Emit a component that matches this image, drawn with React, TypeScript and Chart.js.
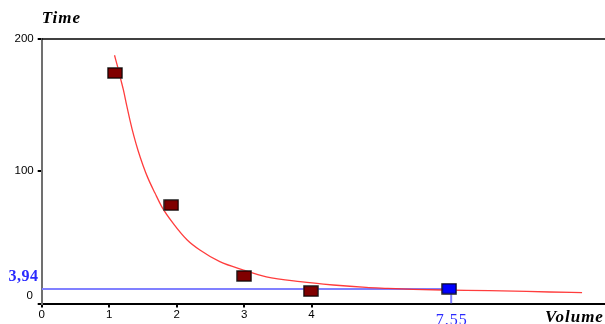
import React, { useEffect, useRef } from "react";
import { Chart, registerables } from "chart.js";

Chart.register(...registerables);

// Measured points (Volume, Time)
const pointsX = [1.086, 1.92, 3.0, 3.99];
const pointsY = [174.3, 74.4, 20.8, 9.4];

// Fitted curve samples
const fitX = [1.079, 1.126, 1.17, 1.212, 1.259, 1.308, 1.367, 1.427, 1.501, 1.575, 1.679, 1.783, 1.946, 2.157, 2.345, 2.64, 2.99, 3.33, 3.83, 4.32, 4.81, 5.13, 5.51, 5.93, 6.64, 7.53, 8.01];
const fitY = [187.7, 178.9, 169.8, 161.3, 150.0, 138.7, 126.5, 115.9, 104.6, 94.8, 83.5, 72.9, 60.8, 48.0, 40.4, 31.6, 25.3, 20.2, 16.5, 14.0, 12.2, 11.5, 10.7, 10.2, 9.7, 8.7, 8.2];

// Highlighted point and guide lines
const markX = [6.04];
const markY = [11.2];
const guideX = 6.07;
const guideY = 11;
const guideXLabel = "7.55";
const guideYLabel = "3,94";

// Axes
const xTicks = [0, 1, 2, 3, 4];
const yTicks = [0, 100, 200];
const xMax = 8.35;
const yMax = 200;
const xTitle = "Volume";
const yTitle = "Time";

function makeSquare(fill: string): HTMLCanvasElement {
  const c = document.createElement("canvas");
  c.width = 16;
  c.height = 12;
  const g = c.getContext("2d")!;
  g.fillStyle = "rgba(120,120,120,0.6)";
  g.fillRect(0, 0, 16, 12);
  g.fillStyle = "#000";
  g.fillRect(0.5, 0.5, 15, 11);
  g.fillStyle = fill;
  g.fillRect(1.5, 1.5, 13, 9);
  return c;
}

export default function App() {
  const ref = useRef<HTMLCanvasElement | null>(null);

  useEffect(() => {
    document.body.style.margin = "0";
    const canvas = ref.current;
    if (!canvas) return;

    const extras = {
      id: "extras",
      afterDraw(chart: any) {
        const { ctx, chartArea } = chart;
        const xs = chart.scales.x;
        const ys = chart.scales.y;
        ctx.save();
        // top frame line
        ctx.strokeStyle = "#000";
        ctx.lineWidth = 1.5;
        ctx.beginPath();
        ctx.moveTo(chartArea.left, chartArea.top);
        ctx.lineTo(chartArea.right, chartArea.top);
        ctx.stroke();

        // axis titles
        ctx.fillStyle = "#000";
        ctx.font = "bold italic 17px 'Liberation Serif'";
        ctx.textAlign = "left";
        ctx.textBaseline = "alphabetic";
        try { (ctx as any).letterSpacing = "1px"; } catch (e) {}
        ctx.fillText(yTitle, chartArea.left, 23);
        ctx.fillText(xTitle, 545, 321.5);

        // y zero label
        try { (ctx as any).letterSpacing = "0px"; } catch (e) {}
        ctx.font = "11.5px 'Liberation Sans'";
        ctx.textAlign = "right";
        ctx.textBaseline = "middle";
        ctx.fillText("0", 33, ys.getPixelForValue(0) - 7.5);

        // guide labels
        ctx.fillStyle = "#2a2aff";
        ctx.font = "bold 16px 'Liberation Serif'";
        ctx.textAlign = "right";
        ctx.textBaseline = "alphabetic";
        try { (ctx as any).letterSpacing = "0.5px"; } catch (e) {}
        ctx.fillText(guideYLabel, 38.5, ys.getPixelForValue(guideY) - 7.5);

        ctx.font = "16px 'Liberation Serif'";
        try { (ctx as any).letterSpacing = "1px"; } catch (e) {}
        ctx.textAlign = "center";
        ctx.textBaseline = "top";
        ctx.fillText(guideXLabel, xs.getPixelForValue(guideX) + 0.5, 313);
        ctx.restore();
      },
    };

    const chart = new Chart(canvas, {
      type: "scatter",
      data: {
        datasets: [
          {
            data: pointsX.map((x, i) => ({ x, y: pointsY[i] })),
            pointStyle: makeSquare("#800000") as any,
            pointRadius: 8,
            showLine: false,
          },
          {
            data: markX.map((x, i) => ({ x, y: markY[i] })),
            pointStyle: makeSquare("#0000ff") as any,
            pointRadius: 8,
            showLine: false,
          },
          {
            data: fitX.map((x, i) => ({ x, y: fitY[i] })),
            showLine: true,
            borderColor: "rgba(255,40,40,0.9)",
            borderWidth: 1.3,
            pointRadius: 0,
            cubicInterpolationMode: "monotone",
          },
          {
            data: [
              { x: 0, y: guideY },
              { x: guideX, y: guideY },
              { x: guideX, y: 0 },
            ],
            showLine: true,
            borderColor: "#8080ff",
            borderWidth: 2,
            pointRadius: 0,
            tension: 0,
          },
        ],
      },
      options: {
        animation: false,
        responsive: false,
        maintainAspectRatio: false,
        layout: { autoPadding: false, padding: { top: 39, right: 0, left: 0, bottom: 0 } },
        plugins: { legend: { display: false }, tooltip: { enabled: false } },
        scales: {
          x: {
            type: "linear",
            min: 0,
            max: xMax,
            afterBuildTicks: (s: any) => {
              s.ticks = xTicks.map((v) => ({ value: v }));
            },
            afterFit: (s: any) => {
              s.height = 20.5;
              s.paddingRight = 0;
              s.paddingLeft = 0;
            },
            grid: { drawOnChartArea: false, drawTicks: true, tickLength: 4, color: "#000", lineWidth: 2 },
            border: { display: true, color: "#000", width: 2 },
            ticks: {
              padding: 0,
              maxRotation: 0,
              autoSkip: false,
              color: "#000",
              font: { family: "'Liberation Sans'", size: 11.5 },
            },
          },
          y: {
            type: "linear",
            min: 0,
            max: yMax,
            afterBuildTicks: (s: any) => {
              s.ticks = yTicks.map((v) => ({ value: v }));
            },
            afterFit: (s: any) => {
              s.width = 41.7;
              s.paddingTop = 0;
              s.paddingBottom = 0;
            },
            grid: { drawOnChartArea: false, drawTicks: true, tickLength: 4, color: "#000", lineWidth: 2 },
            border: { display: true, color: "#707070", width: 2 },
            ticks: {
              padding: 4,
              color: "#000",
              font: { family: "'Liberation Sans'", size: 11.5 },
              callback: (v: any) => (v === 0 ? "" : String(v)),
            },
          },
        },
      },
      plugins: [extras],
    } as any);

    return () => chart.destroy();
  }, []);

  return <canvas ref={ref} width={605} height={324} style={{ display: "block", width: 605, height: 324 }} />;
}
